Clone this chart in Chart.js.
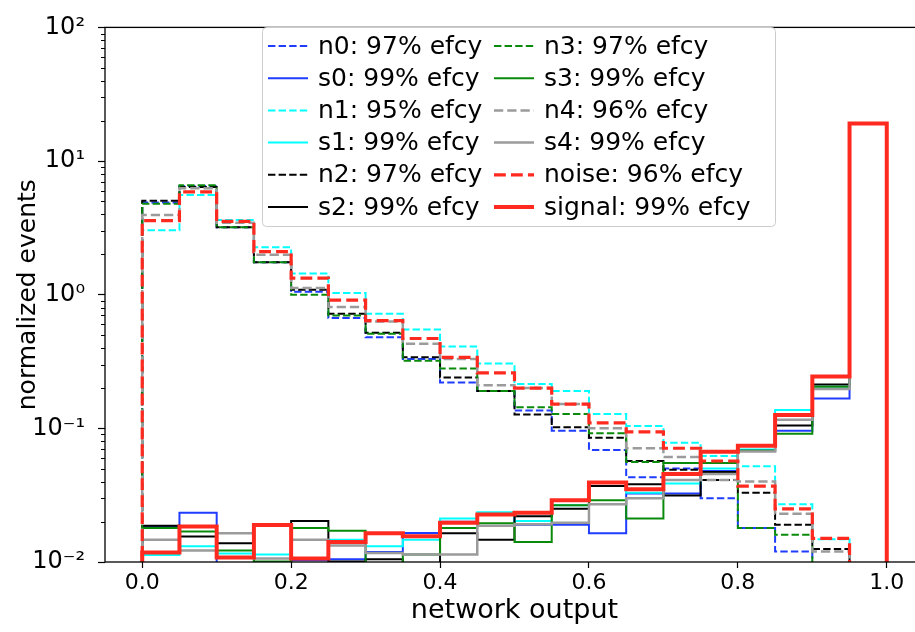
<!DOCTYPE html>
<html>
<head>
<meta charset="utf-8">
<script src="https://cdn.jsdelivr.net/npm/chart.js@4.4.0/dist/chart.umd.min.js"></script>
<style>
  html, body { margin: 0; padding: 0; background: #fff; overflow: hidden; }
  #wrap { width: 915px; height: 632px; overflow: hidden; }
</style>
</head>
<body>
<div id="wrap"><canvas id="histChart" width="930" height="632"></canvas></div>
<script>
// bin edges of the network output histogram
const binEdges = [0.00, 0.05, 0.10, 0.15, 0.20, 0.25, 0.30, 0.35, 0.40, 0.45, 0.50,
                  0.55, 0.60, 0.65, 0.70, 0.75, 0.80, 0.85, 0.90, 0.95, 1.00];

// noise samples (dashed)
const n0Values    = [4.9, 6.5, 3.2, 1.75, 1.05, 0.67, 0.48, 0.33, 0.22, 0.19, 0.136, 0.096, 0.069, 0.043, 0.050, 0.030, 0.018, 0.012, 0.005, 0.005];
const n1Values    = [3.03, 5.56, 3.62, 2.26, 1.44, 1.03, 0.72, 0.55, 0.41, 0.305, 0.215, 0.19, 0.128, 0.104, 0.078, 0.062, 0.052, 0.027, 0.0148, 0.005];
const n2Values    = [5.05, 6.4, 3.2, 1.75, 1.09, 0.72, 0.52, 0.34, 0.24, 0.19, 0.127, 0.102, 0.085, 0.057, 0.049, 0.041, 0.033, 0.019, 0.0125, 0.005];
const n3Values    = [4.8, 6.6, 3.2, 1.75, 1.0, 0.70, 0.51, 0.32, 0.28, 0.19, 0.144, 0.128, 0.092, 0.056, 0.055, 0.055, 0.018, 0.016, 0.005, 0.005];
const n4Values    = [3.94, 6.25, 3.45, 1.99, 1.12, 0.81, 0.63, 0.43, 0.33, 0.21, 0.20, 0.152, 0.10, 0.071, 0.061, 0.041, 0.040, 0.023, 0.012, 0.005];
const noiseValues = [3.58, 5.88, 3.54, 2.1, 1.33, 0.91, 0.64, 0.47, 0.34, 0.26, 0.20, 0.152, 0.11, 0.094, 0.071, 0.057, 0.037, 0.025, 0.015, 0.005];

// signal samples (solid)
const s0Values     = [0.0185, 0.0234, 0.009, 0.0095, 0.0103, 0.0105, 0.0119, 0.0165, 0.020, 0.0225, 0.019, 0.019, 0.0164, 0.0325, 0.0325, 0.048, 0.068, 0.096, 0.167, 19.0];
const s1Values     = [0.0113, 0.0131, 0.0116, 0.0114, 0.0106, 0.0147, 0.0131, 0.0147, 0.0212, 0.0236, 0.0203, 0.0266, 0.037, 0.033, 0.0387, 0.050, 0.0695, 0.137, 0.205, 19.0];
const s2Values     = [0.0187, 0.0155, 0.0138, 0.0095, 0.0203, 0.0101, 0.0105, 0.0098, 0.0164, 0.0147, 0.022, 0.025, 0.037, 0.0381, 0.0314, 0.0472, 0.068, 0.105, 0.213, 19.0];
const s3Values     = [0.018, 0.0169, 0.0122, 0.0101, 0.018, 0.0171, 0.0098, 0.0114, 0.018, 0.0195, 0.0141, 0.0266, 0.029, 0.0212, 0.055, 0.055, 0.068, 0.091, 0.205, 19.0];
const s4Values     = [0.0147, 0.0122, 0.0164, 0.0106, 0.0147, 0.0133, 0.0117, 0.0114, 0.0114, 0.0187, 0.0192, 0.0197, 0.027, 0.030, 0.041, 0.0456, 0.067, 0.116, 0.197, 19.0];
const signalValues = [0.0118, 0.0184, 0.0108, 0.0189, 0.0106, 0.0141, 0.0164, 0.0156, 0.0197, 0.0227, 0.0234, 0.029, 0.0394, 0.035, 0.0456, 0.0667, 0.074, 0.126, 0.244, 19.1];

const seriesLabels = ['n0: 97% efcy', 's0: 99% efcy', 'n1: 95% efcy', 's1: 99% efcy', 'n2: 97% efcy', 's2: 99% efcy',
                      'n3: 97% efcy', 's3: 99% efcy', 'n4: 96% efcy', 's4: 99% efcy', 'noise: 96% efcy', 'signal: 99% efcy'];

const xTickValues = [0.0, 0.2, 0.4, 0.6, 0.8, 1.0];
const yTickValues = [0.01, 0.1, 1, 10, 100];
const yTickLabels = ['10\u207B\u00B2', '10\u207B\u00B9', '10\u2070', '10\u00B9', '10\u00B2'];

// outline of a step histogram drops to "zero" on both ends (below the log axis)
const emptyLevel = 1e-4;

function stepPoints(values) {
    const last = binEdges.length - 1;
    const pts = [{ x: binEdges[0], y: emptyLevel }];
    values.forEach((v, i) => pts.push({ x: binEdges[i], y: v }));
    pts.push({ x: binEdges[last], y: values[values.length - 1] });
    pts.push({ x: binEdges[last], y: emptyLevel });
    return pts;
}

const BLUE = '#1f3dff', CYAN = '#00ffff', BLACK = '#000000', GREEN = '#0a8a0a', GRAY = '#9b9b9b', RED = '#ff2a1f';

const seriesDefs = [
    [n0Values, BLUE, true, 2], [s0Values, BLUE, false, 2],
    [n1Values, CYAN, true, 2], [s1Values, CYAN, false, 2],
    [n2Values, BLACK, true, 2], [s2Values, BLACK, false, 2],
    [n3Values, GREEN, true, 2], [s3Values, GREEN, false, 2],
    [n4Values, GRAY, true, 2.5], [s4Values, GRAY, false, 2.5],
    [noiseValues, RED, true, 3.2], [signalValues, RED, false, 4]
];

const datasets = seriesDefs.map(([vals, color, dashed, lw], i) => ({
    label: seriesLabels[i],
    data: stepPoints(vals),
    borderColor: color,
    borderWidth: lw,
    borderDash: dashed ? [lw * 3.7, lw * 1.6] : [],
    stepped: true,
    pointRadius: 0,
    fill: false,
    order: seriesDefs.length - i   // later series on top, like matplotlib
}));

const FONT = '"DejaVu Sans", sans-serif';

// frame, minor log ticks and the two-column legend inside the plot
const framePlugin = {
    id: 'frameAndLegend',
    afterDraw(chart) {
        const { ctx, chartArea: a, scales } = chart;
        ctx.save();
        ctx.strokeStyle = '#000';
        ctx.lineWidth = 1;
        for (let k = -2; k < 2; k++) {
            for (let m = 2; m <= 9; m++) {
                const py = Math.round(scales.y.getPixelForValue(m * Math.pow(10, k))) + 0.5;
                ctx.beginPath(); ctx.moveTo(a.left - 4, py); ctx.lineTo(a.left, py); ctx.stroke();
            }
        }
        ctx.lineWidth = 1.3;
        ctx.strokeRect(a.left, a.top, a.right - a.left, a.bottom - a.top);

        // legend
        const box = { x: 262, y: 27, w: 513, h: 199 };
        ctx.fillStyle = 'rgba(255,255,255,0.8)';
        ctx.strokeStyle = '#cccccc';
        ctx.lineWidth = 1;
        ctx.beginPath();
        ctx.roundRect(box.x + 0.5, box.y + 0.5, box.w, box.h, 4);
        ctx.fill(); ctx.stroke();

        ctx.font = '25px ' + FONT;
        ctx.textBaseline = 'middle';
        ctx.textAlign = 'left';
        const colX = [268, 494];
        chart.data.datasets.forEach((ds, i) => {
            const col = Math.floor(i / 6), row = i % 6;
            const y = 46 + row * 32.2;
            const x = colX[col];
            ctx.strokeStyle = ds.borderColor;
            ctx.lineWidth = ds.borderWidth;
            ctx.setLineDash(ds.borderDash);
            ctx.beginPath(); ctx.moveTo(x, y); ctx.lineTo(x + 40, y); ctx.stroke();
            ctx.setLineDash([]);
            ctx.fillStyle = '#000';
            ctx.fillText(ds.label, x + 50, y + 1);
        });
        ctx.restore();
    }
};

new Chart(document.getElementById('histChart'), {
    type: 'line',
    data: { datasets },
    options: {
        responsive: false,
        animation: false,
        devicePixelRatio: 1,
        layout: { padding: { top: 16, right: 6, left: 0, bottom: 0 } },
        plugins: { legend: { display: false }, tooltip: { enabled: false } },
        scales: {
            x: {
                type: 'linear',
                min: -0.05,
                max: 1.05,
                afterFit: s => { s.height = 70; },
                afterBuildTicks: s => { s.ticks = xTickValues.map(v => ({ value: v })); },
                border: { display: false },
                grid: { display: true, drawOnChartArea: false, drawTicks: true, tickLength: 6, tickColor: '#000', tickWidth: 1.2 },
                ticks: { color: '#000', font: { family: FONT, size: 22 }, padding: 2, maxRotation: 0, autoSkip: false,
                         callback: v => Number(v).toFixed(1) },
                title: { display: true, text: 'network output', color: '#000', font: { family: FONT, size: 27 },
                         padding: { top: 0, bottom: 5 } }
            },
            y: {
                type: 'logarithmic',
                min: 0.01,
                max: 100,
                afterFit: s => { s.width = 105; },
                afterBuildTicks: s => { s.ticks = yTickValues.map(v => ({ value: v })); },
                border: { display: false },
                grid: { display: true, drawOnChartArea: false, drawTicks: true, tickLength: 7, tickColor: '#000', tickWidth: 1.2 },
                ticks: { color: '#000', font: { family: FONT, size: 24 }, padding: 13, autoSkip: false,
                         callback: (v, i) => yTickLabels[i] },
                title: { display: true, text: 'normalized events', color: '#000', font: { family: FONT, size: 25 },
                         padding: { top: 13, bottom: 0 } }
            }
        }
    },
    plugins: [framePlugin]
});
</script>
</body>
</html>
